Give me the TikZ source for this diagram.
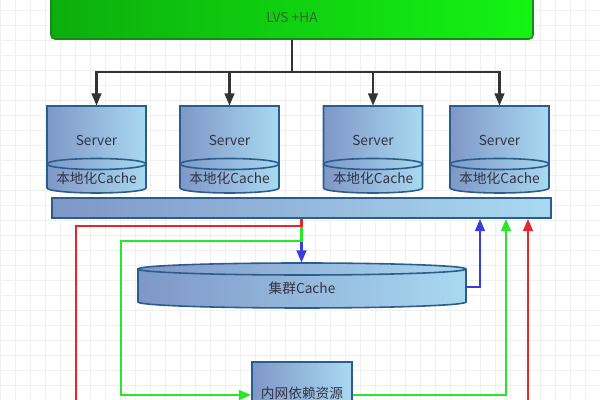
\documentclass[tikz,border=0pt]{standalone}
\usepackage{fontspec}
\setmainfont{Noto Sans CJK SC}
\usetikzlibrary{arrows.meta}
\definecolor{lvsL}{HTML}{0CAE0C}
\definecolor{lvsR}{HTML}{14F414}
\definecolor{lvsEdge}{HTML}{1E861E}
\definecolor{lvsText}{HTML}{2E6A2E}
\definecolor{cylL}{HTML}{7F97C7}
\definecolor{cylR}{HTML}{A9D9F1}
\definecolor{cylEdge}{HTML}{2A5C8C}
\definecolor{txt}{HTML}{333344}
\definecolor{lnBlue}{HTML}{3C3CDC}
\definecolor{lnGreen}{HTML}{28E628}
\definecolor{lnRed}{HTML}{E0282E}

\begin{document}
\begin{tikzpicture}[font=\fontsize{7.8}{9}\selectfont]
        \tikzstyle{every node}=[inner sep=0pt, text=txt]
        \tikzstyle{gridline}=[draw=gray!12, line width=0.4pt]
        \tikzstyle{cylbody}=[left color=cylL, right color=cylR, draw=cylEdge, line width=0.9pt]
        \tikzstyle{frame}=[rectangle, draw=none]
        \tikzstyle{blackarrow}=[draw=black!80, line width=1.3pt, -{Triangle[length=7pt,width=5.5pt]}]
        \tikzstyle{bluearrow}=[draw=lnBlue, line width=1.3pt, -{Triangle[length=7pt,width=5.5pt]}]
        \tikzstyle{greenarrow}=[draw=lnGreen, line width=1.3pt, -{Triangle[length=7pt,width=5.5pt]}]
        \tikzstyle{redline}=[draw=lnRed, line width=1.3pt]
        \tikzstyle{redarrow}=[redline, -{Triangle[length=7pt,width=5.5pt]}]
        \useasboundingbox (0,0) rectangle (12,8);
        \clip (0,0) rectangle (12,8);
        \fill[white] (0,0) rectangle (12,8);
        \draw[gridline, step=0.3] (0,0) grid (12,8);

        \node[rectangle, rounded corners=0.08cm, left color=lvsL, right color=lvsR, draw=lvsEdge, line width=0.9pt,
              minimum width=9.64cm, minimum height=0.88cm, text=lvsText] (lvs) at (5.84,7.66) {LVS +HA};
        \coordinate (hub) at (lvs.south |- 0,6.56);

        \foreach \cx [count=\i] in {1.93,4.59,7.46,9.99} {
            \path[cylbody] ({\cx-0.99},5.88) -- ({\cx-0.99},4.24)
                arc[start angle=180, end angle=360, x radius=0.99cm, y radius=0.1cm] -- ({\cx+0.99},5.88) -- cycle;
            \draw[cylEdge, line width=0.9pt] (\cx,4.72) ellipse [x radius=0.99cm, y radius=0.11cm];
            \node[frame, minimum width=1.98cm, minimum height=1.74cm] (s\i) at (\cx,5.01) {};
            \node (srv\i) at (\cx,5.2) {Server};
            \node (loc\i) at (\cx,4.44) {本地化Cache};
        }

        \node[rectangle, left color=cylL, right color=cylR, draw=cylEdge, line width=0.9pt,
              minimum width=9.98cm, minimum height=0.4cm] (bar) at (6.03,3.84) {};

        \path[cylbody] (2.76,2.62) -- (2.76,1.96)
            arc[start angle=180, end angle=360, x radius=3.28cm, y radius=0.12cm] -- (9.32,2.62)
            arc[start angle=0, end angle=180, x radius=3.28cm, y radius=0.12cm] -- cycle;
        \draw[cylEdge, line width=0.9pt] (2.76,2.62) arc[start angle=180, end angle=360, x radius=3.28cm, y radius=0.12cm];
        \node[frame, minimum width=6.56cm, minimum height=0.9cm] (cc) at (6.04,2.29) {};
        \node (cctext) at (6.04,2.24) {集群Cache};

        \node[rectangle, left color=cylL, right color=cylR, draw=cylEdge, line width=0.9pt,
              minimum width=2cm, minimum height=1.06cm] (dep) at (6.04,0.23) {};
        \node (deptext) at (6.04,0.14) {内网依赖资源};

        \coordinate (gturn) at (2.42,0.1);
        \coordinate (gup) at (10.12,0.1);
        \coordinate (bup) at (9.6,2.26);
        \coordinate (redL) at (1.52,0);
        \coordinate (redR) at (10.56,0);

        \draw[draw=black!80, line width=1.3pt] (lvs.south) -- (hub);
        \foreach \i in {1,...,4}
            \draw[blackarrow] (hub) -| (s\i.north);

        \draw[bluearrow] (bar.south) -- (bar.south |- cc.north);
        \draw[bluearrow] (cc.east |- bup) -- (bup) -- (bup |- bar.south);
        \draw[greenarrow] (bar.south) -- ++(0,-0.44) -| (gturn) -- (dep.west |- gturn);
        \draw[greenarrow] (dep.east |- gup) -- (gup) -- (gup |- bar.south);
        \draw[redline] (bar.south) -- ++(0,-0.14) -| (redL);
        \draw[redarrow] (redR) -- (redR |- bar.south);
    \end{tikzpicture}
\end{document}
